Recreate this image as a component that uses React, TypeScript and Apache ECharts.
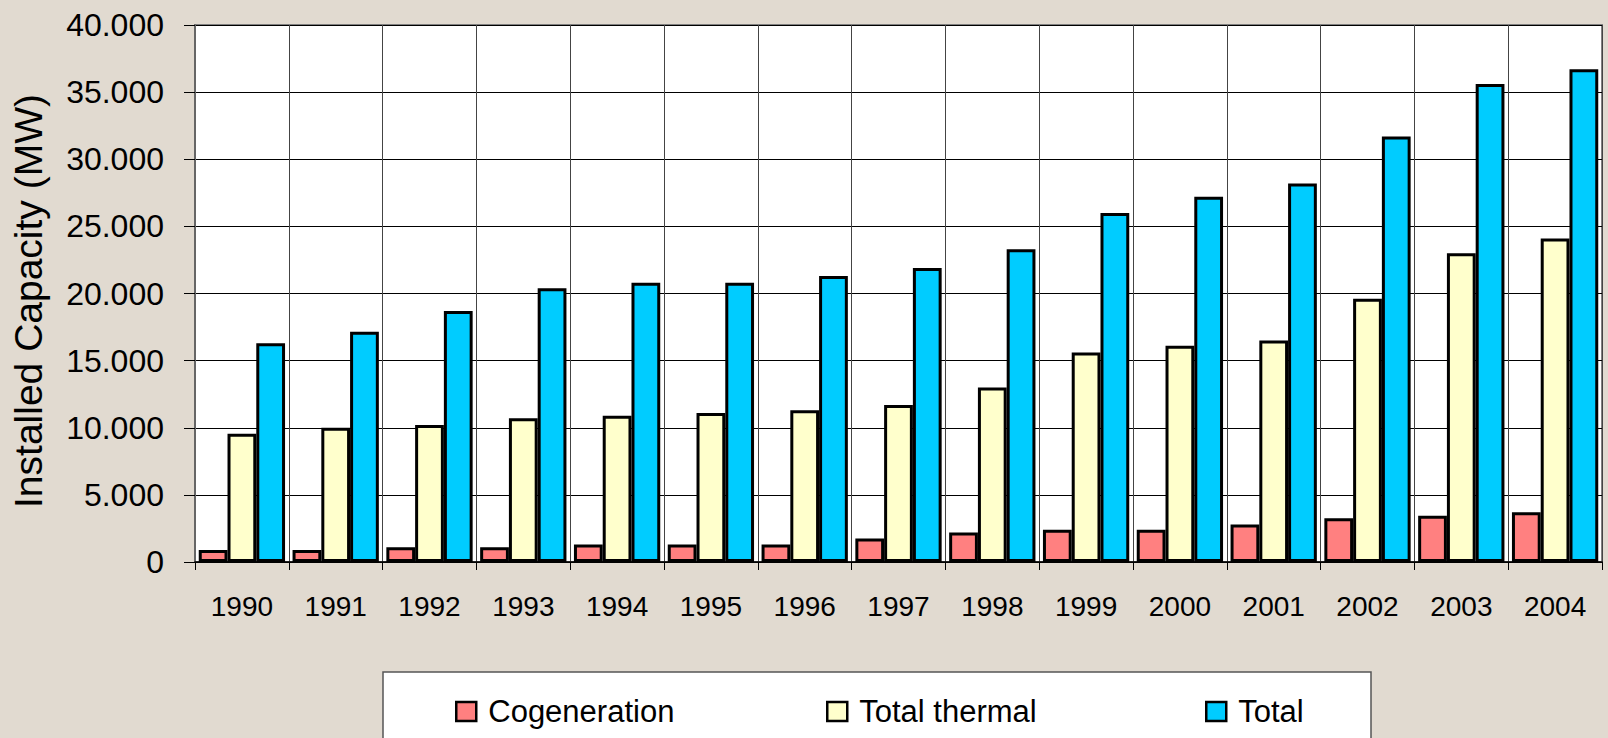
import React, { useEffect, useRef } from "react";
import * as echarts from "echarts";

const years = ["1990","1991","1992","1993","1994","1995","1996","1997","1998","1999","2000","2001","2002","2003","2004"];
const cogeneration = [900, 900, 1100, 1100, 1300, 1300, 1300, 1750, 2200, 2400, 2400, 2800, 3250, 3450, 3700];
const totalThermal = [9550, 10000, 10200, 10700, 10900, 11100, 11300, 11700, 13000, 15600, 16100, 16500, 19600, 23000, 24100];
const total = [16300, 17150, 18700, 20400, 20800, 20800, 21300, 21900, 23300, 26000, 27200, 28200, 31700, 35600, 36700];
const seriesNames = ["Cogeneration", "Total thermal", "Total"];
const colors = ["#FF8080", "#FFFFCC", "#00CCFF"];
const yTitle = "Installed Capacity (MW)";

const FONT = "'Liberation Sans', Arial, sans-serif";

function fmt(v: number): string {
  return String(v).replace(/\B(?=(\d{3})+(?!\d))/g, ".");
}

export default function App() {
  const ref = useRef<HTMLDivElement>(null);
  useEffect(() => {
    if (!ref.current) return;
    const chart = echarts.init(ref.current, null, { renderer: "svg" });
    const dataSets = [cogeneration, totalThermal, total];
    const legendLefts = [455, 826, 1205];
    chart.setOption({
      animation: false,
      backgroundColor: "#E1DAD0",
      textStyle: { fontFamily: FONT },
      grid: {
        left: 195,
        top: 25,
        width: 1407,
        height: 537,
        show: true,
        backgroundColor: "#ffffff",
        borderColor: "#808080",
        borderWidth: 2,
        containLabel: false,
      },
      graphic: [
        {
          type: "rect",
          shape: { x: 383, y: 672, width: 988, height: 80 },
          style: { fill: "#ffffff", stroke: "#555555", lineWidth: 1.5 },
          z: 0,
        },
        {
          type: "text",
          x: 28,
          y: 301,
          rotation: Math.PI / 2,
          style: {
            text: yTitle,
            font: `39px ${FONT}`,
            fill: "#000",
            textAlign: "center",
            textVerticalAlign: "middle",
          },
        },
      ],
      legend: seriesNames.map((n, i) => ({
        data: [{ name: n, icon: "rect" }],
        left: legendLefts[i],
        top: 696,
        itemWidth: 20,
        itemHeight: 19,
        padding: 0,
        z: 5,
        itemStyle: { borderColor: "#000", borderWidth: 2.5 },
        textStyle: { fontSize: 31, color: "#000", fontFamily: FONT, padding: [0, 0, 0, 7] },
      })),
      xAxis: {
        type: "category",
        data: years,
        boundaryGap: true,
        axisLine: { show: true, lineStyle: { color: "#000", width: 1.5 } },
        axisTick: { show: true, interval: 0, length: 8, lineStyle: { color: "#000" } },
        splitLine: { show: true, interval: 0, lineStyle: { color: "#444", width: 1 } },
        axisLabel: { interval: 0, fontSize: 28, color: "#000", margin: 30, fontFamily: FONT },
      },
      yAxis: {
        type: "value",
        min: 0,
        max: 40000,
        interval: 5000,
        axisLine: { show: true, lineStyle: { color: "#666", width: 2 } },
        axisTick: { show: true, inside: false, length: 11, lineStyle: { color: "#000" } },
        splitLine: { show: true, lineStyle: { color: "#000", width: 1 } },
        axisLabel: {
          fontSize: 32,
          color: "#000",
          margin: 31,
          fontFamily: FONT,
          formatter: (v: number) => fmt(v),
        },
      },
      series: seriesNames.map((n, i) => ({
        name: n,
        type: "bar",
        data: dataSets[i],
        barGap: "0%",
        barCategoryGap: "8%",
        itemStyle: { color: colors[i], borderColor: "#000", borderWidth: 3 },
      })),
    });
    return () => chart.dispose();
  }, []);
  return (
    <div
      ref={ref}
      style={{ position: "fixed", left: 0, top: 0, width: 1608, height: 738 }}
    />
  );
}
